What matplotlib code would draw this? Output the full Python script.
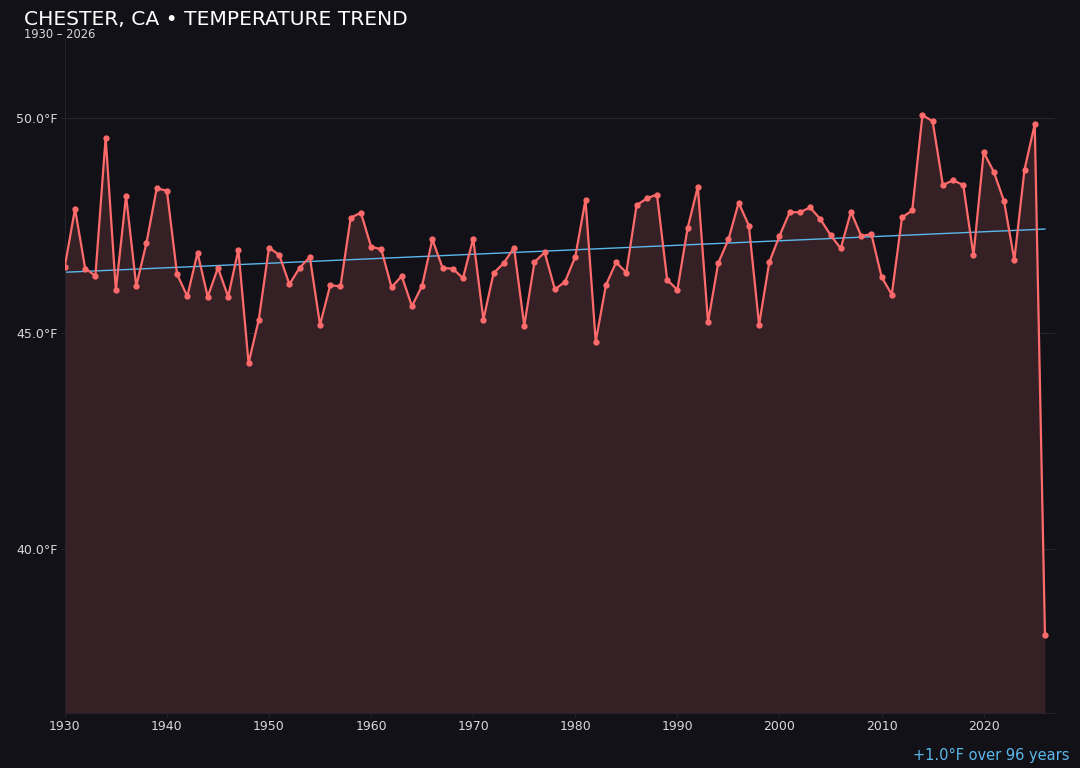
import numpy as np
import matplotlib
matplotlib.use("Agg")
import matplotlib.pyplot as plt

# annual mean temperature, Chester CA
years = list(range(1930, 2027))
temps = [
    46.55, 47.89, 46.50, 46.34, 49.54, 46.00, 48.19, 46.10, 47.10, 48.36,
    48.31, 46.37, 45.86, 46.87, 45.85, 46.52, 45.85, 46.94, 44.31, 45.32,
    46.99, 46.82, 46.14, 46.52, 46.77, 45.20, 46.12, 46.09, 47.68, 47.80,
    47.01, 46.95, 46.07, 46.33, 45.63, 46.11, 47.18, 46.52, 46.50, 46.28,
    47.20, 45.32, 46.40, 46.63, 46.99, 45.18, 46.65, 46.88, 46.02, 46.20,
    46.78, 48.10, 44.81, 46.12, 46.65, 46.41, 47.97, 48.13, 48.22, 46.24,
    46.01, 47.44, 48.40, 45.26, 46.63, 47.18, 48.03, 47.50, 45.20, 46.65,
    47.26, 47.81, 47.81, 47.92, 47.65, 47.28, 46.97, 47.82, 47.26, 47.30,
    46.31, 45.90, 47.69, 47.85, 50.06, 49.92, 48.44, 48.55, 48.44, 46.81,
    49.20, 48.74, 48.06, 46.70, 48.80, 49.85, 38.01,
]
yticks = [40.0, 45.0, 50.0]
xticks = [1930, 1940, 1950, 1960, 1970, 1980, 1990, 2000, 2010, 2020]

BG = "#121117"
LINE = "#ff6b6b"
TREND = "#5bb8ec"
TXT = "#d8d8d8"

x = np.array(years)
y = np.array(temps)

# linear trend over every year
k, b = np.polyfit(x, y, 1)
trend = k * x + b
change = k * (years[-1] - years[0])

fig = plt.figure(figsize=(10.8, 7.68), dpi=100, facecolor=BG)
ax = fig.add_axes([0.060, 0.0716, 0.917, 0.879])
ax.set_facecolor(BG)

ax.fill_between(x, y, 36.2, color="#352026", lw=0, zorder=1)
ax.plot(x, trend, color=TREND, lw=1.0, zorder=2)
ax.plot(x, y, color=LINE, lw=1.6, marker="o", ms=3.5, zorder=3)

ax.set_xlim(1930, 2027)
ax.set_ylim(36.2, 51.85)
ax.set_xticks(xticks)
ax.set_yticks(yticks)
ax.set_yticklabels([f"{t:.1f}°F" for t in yticks])
ax.tick_params(colors=TXT, labelsize=9, length=3, width=0.6, pad=2)
ax.tick_params(axis="both", color="#2a2a33")
ax.grid(axis="y", color="#26242c", lw=0.8)
ax.set_axisbelow(True)
for s in ["top", "right"]:
    ax.spines[s].set_visible(False)
for s in ["left", "bottom"]:
    ax.spines[s].set_color("#24232b")

fig.text(0.022, 0.974, "CHESTER, CA • TEMPERATURE TREND", color="white",
         fontsize=14.6, va="center", ha="left")
fig.text(0.022, 0.955, f"{years[0]} – {years[-1]}", color=TXT,
         fontsize=8.3, va="center", ha="left")
fig.text(0.990, 0.016, f"{change:+.1f}°F over {years[-1] - years[0]} years",
         color=TREND, fontsize=10.5, ha="right", va="center")

fig.savefig("out.png", dpi=100, facecolor=BG)
